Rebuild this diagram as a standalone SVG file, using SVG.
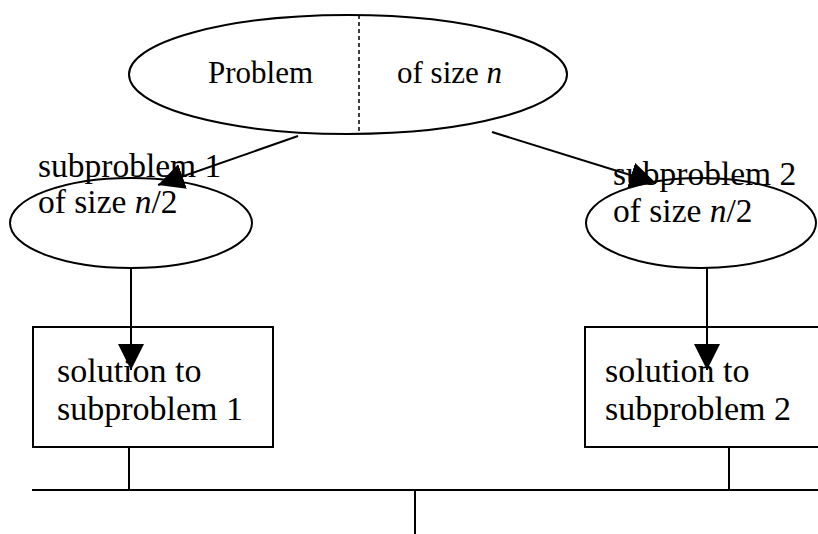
<svg xmlns="http://www.w3.org/2000/svg" width="818" height="534" viewBox="0 0 818 534">
<style>
.s{fill:none;stroke:#000;stroke-width:2}
.c{stroke:#000;stroke-width:2}
.t{font-family:'Liberation Serif','Times New Roman',serif;font-size:31px;fill:#000}
.u{font-family:'Liberation Serif','Times New Roman',serif;font-size:33.5px;fill:#000}
.v{font-family:'Liberation Serif','Times New Roman',serif;font-size:34px;fill:#000}
</style>
<defs>
<marker id="ah" viewBox="0 0 10 10" refX="10" refY="5" markerWidth="26" markerHeight="26" markerUnits="userSpaceOnUse" orient="auto">
<path d="M0,0 L10,5 L0,10 Z" fill="#000"/>
</marker>
</defs>
<rect width="818" height="534" fill="#fff"/>
<g id="problem">
<ellipse class="s" cx="348" cy="74.5" rx="219" ry="59.5"/>
<line x1="359" y1="15" x2="359" y2="134" stroke="#000" stroke-width="1.5" stroke-dasharray="4,3"/>
<text class="t" x="208" y="83">Problem</text>
<text class="t" x="397" y="83">of size <tspan font-style="italic">n</tspan></text>
</g>
<g id="sub1">
<ellipse class="s" cx="131" cy="223" rx="121" ry="45"/>
<text class="u" x="38" y="177">subproblem 1</text>
<text class="u" x="38" y="213">of size <tspan font-style="italic">n</tspan>/2</text>
</g>
<g id="sub2">
<ellipse class="s" cx="701" cy="223" rx="115" ry="45"/>
<text class="u" x="613" y="185">subproblem 2</text>
<text class="u" x="613" y="222">of size <tspan font-style="italic">n</tspan>/2</text>
</g>
<g id="sol1">
<rect class="s" x="33" y="327" width="240" height="120"/>
<text class="v" x="57" y="382">solution to</text>
<text class="v" x="57" y="420">subproblem 1</text>
</g>
<g id="sol2">
<rect class="s" x="585" y="327" width="240" height="120"/>
<text class="v" x="605" y="382">solution to</text>
<text class="v" x="605" y="420">subproblem 2</text>
</g>
<g id="connectors">
<line class="c" x1="298" y1="136" x2="158" y2="185" marker-end="url(#ah)"/>
<line class="c" x1="492" y1="132" x2="656" y2="183" marker-end="url(#ah)"/>
<line class="c" x1="131" y1="268" x2="131" y2="370" marker-end="url(#ah)"/>
<line class="c" x1="707" y1="268" x2="707" y2="370" marker-end="url(#ah)"/>
<line class="c" x1="129" y1="447" x2="129" y2="490"/>
<line class="c" x1="729" y1="447" x2="729" y2="490"/>
<line class="c" x1="32" y1="490" x2="818" y2="490"/>
<line class="c" x1="415" y1="490" x2="415" y2="534"/>
</g>
</svg>
